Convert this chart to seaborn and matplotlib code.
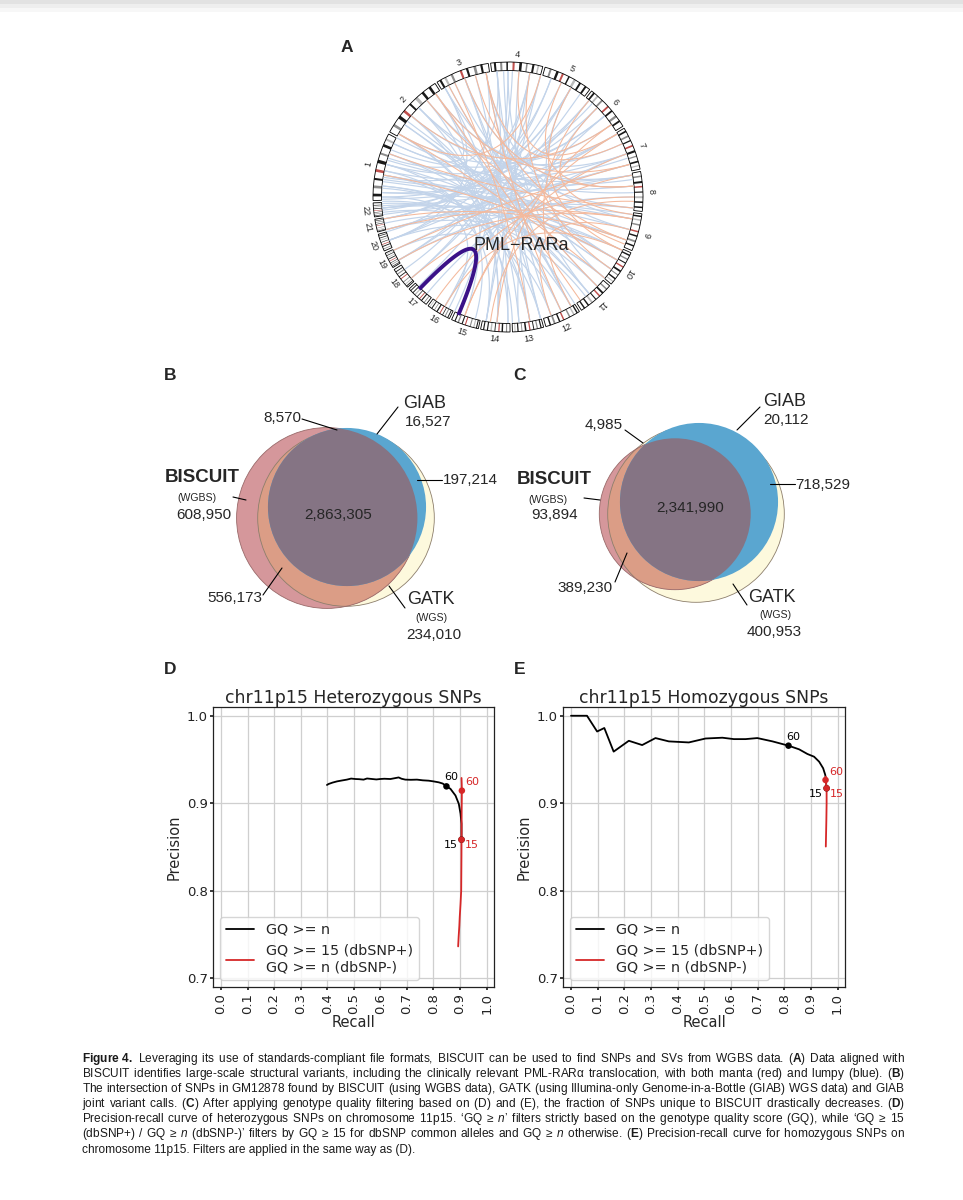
import numpy as np
import matplotlib
matplotlib.use("Agg")
import matplotlib.pyplot as plt
from matplotlib.patches import Circle, Wedge
from matplotlib import font_manager
import seaborn as sns

W, H = 963, 1200

# ---------------- panel A: circos of structural variants ----------------
chrom_names = [str(i) for i in range(1, 23)]
chrom_sizes_mb = [249, 242, 198, 190, 181, 171, 159, 145, 138, 134, 135,
                  133, 114, 107, 102, 90, 83, 80, 59, 64, 47, 51]

# link end points as angles on the circle (degrees, counter-clockwise from east)
blue_links = [
    (172, 5), (170, -10), (168, 20), (165, -30), (175, -45), (178, 30), (160, -20), (158, 40),
    (176, -60), (180, -100), (185, 10), (188, -5), (192, -25), (195, 15), (200, -40), (186, 60),
    (190, 80), (196, 100), (205, -70), (210, 50), (150, -80), (145, -50), (140, -95), (135, 10),
    (130, -110), (125, -65), (120, -85), (115, -30), (110, -75), (105, -90), (100, -60), (95, -100),
    (92, -75), (88, -120), (85, -80), (80, -95), (75, -140), (70, -150), (65, -160), (60, -170),
    (55, -135), (50, -175), (45, 180), (40, 165), (35, 150), (30, -155), (25, 140), (15, -165),
    (10, 155), (-5, 130), (-15, 120), (-25, 170), (-35, 145), (-50, 160), (-65, 175), (-75, 182),
    (-90, 150), (-105, 165), (-120, 40), (-130, 20), (-140, 60), (-150, 0), (-160, 30), (-165, -40),
    (-170, 70), (-50, 90), (-60, 110), (-70, 95), (-100, 75), (-115, 90), (-10, 100), (5, 110),
    (20, 125), (-40, 60), (-85, 45), (-30, 135), (-20, 185), (162, 95), (155, 125), (200, 120),
    (168, -88), (183, -118), (173, -15), (152, 2), (143, -35), (-145, 80), (-95, 135), (-80, 170),
    (178, -8), (181, 18), (184, -30), (163, 8), (187, -52), (171, 48), (-58, 140), (-45, 118),
]
orange_links = [
    (110, 5), (105, -20), (100, 25), (125, 15), (140, 35), (80, -35),
    (60, -25), (50, -60), (35, -95), (20, -110), (0, -140),
    (-10, -150), (-30, 170), (-40, 150), (-55, 125), (-65, 100), (-80, 115),
    (-110, 30), (-125, 10), (-155, 15), (-170, -20), (160, -5),
    (85, 30), (75, 150), (-15, -70), (195, -10), (118, -45), (65, 5),
    (45, -8), (-25, -120), (130, -22), (-2, -98),
]
# PML-RARa fusion: (chromosome, position in Mb)
pml_rara = [("15", 86), ("17", 56)]

# ---------------- panels B / C: SNP call overlaps ----------------
venn_regions = ["BISCUIT", "GIAB", "GATK", "BISCUIT+GIAB", "BISCUIT+GATK", "GIAB+GATK", "all"]
venn_b_counts = [608950, 16527, 234010, 8570, 556173, 197214, 2863305]
venn_c_counts = [93894, 20112, 400953, 4985, 389230, 718529, 2341990]

# ---------------- panels D / E: precision-recall ----------------
het_gq_recall = [0.399, 0.405, 0.42, 0.437, 0.455, 0.474, 0.49, 0.506, 0.52, 0.537, 0.55, 0.569,
                 0.585, 0.600, 0.615, 0.638, 0.652, 0.669, 0.68, 0.694, 0.715, 0.738, 0.76, 0.782,
                 0.80, 0.820, 0.835, 0.849, 0.864, 0.883, 0.8955, 0.902, 0.9055, 0.9057]
het_gq_precision = [0.9209, 0.9220, 0.9236, 0.925, 0.926, 0.927, 0.9282, 0.9277, 0.9275, 0.927, 0.9283, 0.9277,
                    0.9272, 0.9277, 0.928, 0.9277, 0.9285, 0.9295, 0.928, 0.927, 0.9268, 0.927, 0.9262, 0.9258,
                    0.925, 0.9239, 0.9225, 0.9193, 0.9165, 0.9088, 0.8993, 0.888, 0.8766, 0.8584]
het_db_recall = [0.9057, 0.9065, 0.907, 0.9068, 0.9062, 0.906, 0.9057, 0.9055, 0.905, 0.9045,
                 0.902, 0.899, 0.8975, 0.895, 0.893]
het_db_precision = [0.9289, 0.922, 0.9144, 0.905, 0.89, 0.875, 0.8584, 0.84, 0.82, 0.80,
                    0.785, 0.770, 0.760, 0.748, 0.7364]
het_marks_gq = {60: (0.849, 0.9193), 15: (0.9057, 0.8584)}
het_marks_db = {60: (0.907, 0.9144), 15: (0.9057, 0.8584)}

hom_gq_recall = [0.0, 0.06, 0.098, 0.125, 0.160, 0.217, 0.267, 0.317, 0.367, 0.442, 0.505, 0.568,
                 0.611, 0.655, 0.699, 0.756, 0.816, 0.856, 0.887, 0.912, 0.931, 0.946, 0.954,
                 0.956, 0.959]
hom_gq_precision = [1.0, 1.0, 0.982, 0.986, 0.959, 0.9714, 0.9665, 0.9745, 0.9707, 0.9695, 0.974, 0.9749,
                    0.9733, 0.9733, 0.9745, 0.9707, 0.9658, 0.9616, 0.9563, 0.9532, 0.9475, 0.940, 0.9323,
                    0.9266, 0.9171]
hom_db_recall = [0.956, 0.955, 0.959, 0.959, 0.958, 0.957, 0.956]
hom_db_precision = [0.9304, 0.9266, 0.9171, 0.90, 0.88, 0.865, 0.8505]
hom_marks_gq = {60: (0.816, 0.9658), 15: (0.959, 0.9171)}
hom_marks_db = {60: (0.955, 0.9266), 15: (0.959, 0.9171)}

x_ticks = [0.0, 0.1, 0.2, 0.3, 0.4, 0.5, 0.6, 0.7, 0.8, 0.9, 1.0]
y_ticks = [0.7, 0.8, 0.9, 1.0]

caption_lines = [
    r"$\mathbf{Figure~4.}$ Leveraging its use of standards-compliant file formats, BISCUIT can be used to find SNPs and SVs from WGBS data. ($\mathbf{A}$) Data aligned with",
    r"BISCUIT identifies large-scale structural variants, including the clinically relevant PML-RARα translocation, with both manta (red) and lumpy (blue). ($\mathbf{B}$)",
    r"The intersection of SNPs in GM12878 found by BISCUIT (using WGBS data), GATK (using Illumina-only Genome-in-a-Bottle (GIAB) WGS data) and GIAB",
    r"joint variant calls. ($\mathbf{C}$) After applying genotype quality filtering based on (D) and (E), the fraction of SNPs unique to BISCUIT drastically decreases. ($\mathbf{D}$)",
    r"Precision-recall curve of heterozygous SNPs on chromosome 11p15. ‘GQ ≥ $\mathit{n}$’ filters strictly based on the genotype quality score (GQ), while ‘GQ ≥ 15",
    r"(dbSNP+) / GQ ≥ $\mathit{n}$ (dbSNP-)’ filters by GQ ≥ 15 for dbSNP common alleles and GQ ≥ $\mathit{n}$ otherwise. ($\mathbf{E}$) Precision-recall curve for homozygous SNPs on",
    r"chromosome 11p15. Filters are applied in the same way as (D).",
]

# ---------------- style ----------------
sns.set_theme(style="ticks", rc={
    "axes.edgecolor": "#222222", "axes.linewidth": 0.9,
    "xtick.major.size": 2.2, "ytick.major.size": 2.2,
    "xtick.major.pad": 2.2, "ytick.major.pad": 1.6,
    "xtick.color": "#222222", "ytick.color": "#222222",
    "grid.color": "#cfcfcf", "grid.linewidth": 0.9,
})
plt.rcParams["font.family"] = ["DejaVu Sans"]
installed = {f.name for f in font_manager.fontManager.ttflist}
cap_font = "Liberation Sans Narrow" if "Liberation Sans Narrow" in installed else "Liberation Sans"
plt.rcParams["mathtext.fontset"] = "custom"
plt.rcParams["mathtext.rm"] = cap_font
plt.rcParams["mathtext.bf"] = cap_font + ":bold"
plt.rcParams["mathtext.it"] = cap_font + ":italic"
ARIAL = "Liberation Sans"

fig = plt.figure(figsize=(W / 100, H / 100), dpi=100)
fig.patch.set_facecolor("white")

# page overlay in pixel coordinates
ax0 = fig.add_axes([0, 0, 1, 1])
ax0.set_xlim(0, W)
ax0.set_ylim(H, 0)
ax0.axis("off")
for y0, y1, c in [(0, 4, "#e2e2e2"), (4, 8, "#eeeeee"), (8, 12, "#f7f7f7")]:
    ax0.axhspan(y0, y1, color=c, lw=0)

for letter, x, y in [("A", 347, 48), ("B", 170, 375), ("C", 520, 375), ("D", 170, 670), ("E", 520, 670)]:
    ax0.text(x, y, letter, ha="center", va="center", fontsize=12.5, fontweight="bold", family=ARIAL)

# ---------------- panel A ----------------
cx, cy, half = 508, 197, 170
axA = fig.add_axes([(cx - half) / W, 1 - (cy + half) / H, 2 * half / W, 2 * half / H])
axA.set_xlim(-half, half)
axA.set_ylim(-half, half)
axA.axis("off")

gap = 1.0
deg_per_mb = (360 - gap * len(chrom_sizes_mb)) / sum(chrom_sizes_mb)
band_patterns = [
    [(0.06, 0.10, "k"), (0.18, 0.22, "#8c8c8c"), (0.30, 0.33, "k"), (0.42, 0.46, "#c0504d"),
     (0.55, 0.60, "k"), (0.68, 0.71, "#8c8c8c"), (0.80, 0.84, "k"), (0.90, 0.93, "#bbbbbb")],
    [(0.10, 0.14, "#8c8c8c"), (0.24, 0.29, "k"), (0.36, 0.40, "#c0504d"), (0.50, 0.53, "k"),
     (0.62, 0.67, "#bbbbbb"), (0.75, 0.79, "k"), (0.88, 0.92, "k")],
    [(0.05, 0.09, "k"), (0.15, 0.19, "#bbbbbb"), (0.28, 0.32, "#8c8c8c"), (0.46, 0.50, "#c0504d"),
     (0.58, 0.62, "k"), (0.72, 0.77, "#8c8c8c"), (0.85, 0.89, "k")],
]
r_out, ring_w, r_link, r_lab = 135, 8.5, 126, 143
chrom_start = {}
pos = 182.0 - gap / 2
for i, (name, size) in enumerate(zip(chrom_names, chrom_sizes_mb)):
    a0 = pos
    a1 = pos - size * deg_per_mb
    chrom_start[name] = a0
    axA.add_patch(Wedge((0, 0), r_out, a1, a0, width=ring_w, facecolor="white", edgecolor="none"))
    for f0, f1, c in band_patterns[i % 3]:
        axA.add_patch(Wedge((0, 0), r_out, a0 - f1 * (a0 - a1), a0 - f0 * (a0 - a1),
                            width=ring_w, facecolor=c, edgecolor="none"))
    axA.add_patch(Wedge((0, 0), r_out, a1, a0, width=ring_w, facecolor="none",
                        edgecolor="black", lw=0.6))
    mid = (a0 + a1) / 2
    rot = mid - 90 if -60 < mid < 200 else mid + 90
    axA.text(r_lab * np.cos(np.radians(mid)), r_lab * np.sin(np.radians(mid)), name,
             ha="center", va="center", rotation=rot, fontsize=6.5, family=ARIAL)
    pos = a1 - gap


def link_curve(a1, a2, r=r_link):
    t = np.linspace(0, 1, 80)[:, None]
    p0 = np.array([np.cos(np.radians(a1)), np.sin(np.radians(a1))]) * r
    p2 = np.array([np.cos(np.radians(a2)), np.sin(np.radians(a2))]) * r
    pts = (1 - t) ** 2 * p0 + t ** 2 * p2  # quadratic bezier with control at centre
    return pts[:, 0], pts[:, 1]


for a1, a2 in blue_links:
    xs, ys = link_curve(a1, a2)
    axA.plot(xs, ys, color="#c3d4ea", lw=0.85, solid_capstyle="butt")
for a1, a2 in orange_links:
    xs, ys = link_curve(a1, a2)
    axA.plot(xs, ys, color="#f4b99c", lw=0.75, solid_capstyle="butt")

fus_angles = [chrom_start[c] - p * deg_per_mb for c, p in pml_rara]
xs, ys = link_curve(fus_angles[0], fus_angles[1], r=128)
axA.plot(xs, ys, color="#3a1188", lw=2.8, solid_capstyle="butt")
axA.text(473 - cx, cy - 250, "PML\u2212RARa", ha="left", va="baseline", fontsize=13, family=ARIAL)

# ---------------- panels B / C ----------------
venn_colors = {"BISCUIT": "#d5979b", "BISCUIT+GATK": "#db9d86", "GIAB": "#5aa6d0",
               "all": "#857484", "GATK": "#fdf9dd"}


def set_totals(counts):
    only_b, only_giab, only_gatk, b_giab, b_gatk, giab_gatk, all3 = counts
    return {"BISCUIT": only_b + b_giab + b_gatk + all3,
            "GIAB": only_giab + b_giab + giab_gatk + all3,
            "GATK": only_gatk + b_gatk + giab_gatk + all3}


def draw_venn(counts, centers, count_pos, name_pos, leaders):
    tot = set_totals(counts)
    rad = {k: 45 * np.sqrt(v / 1e6) for k, v in tot.items()}
    gatk = Circle(centers["GATK"], rad["GATK"], facecolor=venn_colors["GATK"], edgecolor="none")
    ax0.add_patch(gatk)
    bis = Circle(centers["BISCUIT"], rad["BISCUIT"], facecolor=venn_colors["BISCUIT"], edgecolor="none")
    ax0.add_patch(bis)
    bg = Circle(centers["BISCUIT"], rad["BISCUIT"], facecolor=venn_colors["BISCUIT+GATK"], edgecolor="none")
    ax0.add_patch(bg)
    bg.set_clip_path(Circle(centers["GATK"], rad["GATK"], transform=ax0.transData))
    ax0.add_patch(Circle(centers["GATK"], rad["GATK"], facecolor="none", edgecolor="#8d7f6c", lw=0.6))
    ax0.add_patch(Circle(centers["BISCUIT"], rad["BISCUIT"], facecolor="none", edgecolor="#9a6a6a", lw=0.6))
    ax0.add_patch(Circle(centers["GIAB"], rad["GIAB"], facecolor=venn_colors["GIAB"], edgecolor="none"))
    tri = Circle(centers["GIAB"], rad["GIAB"], facecolor=venn_colors["all"], edgecolor="none")
    ax0.add_patch(tri)
    tri.set_clip_path(Circle(centers["BISCUIT"], rad["BISCUIT"], transform=ax0.transData))

    for v, (x, y, ha) in zip(counts, count_pos):
        ax0.text(x, y, f"{v:,}", ha=ha, va="center", fontsize=11, family=ARIAL)
    for txt, (x, y, ha, size, weight) in name_pos.items():
        ax0.text(x, y, txt, ha=ha, va="center", fontsize=size, fontweight=weight, family=ARIAL)
    for x0, y0, x1, y1 in leaders:
        ax0.plot([x0, x1], [y0, y1], color="black", lw=0.8)


draw_venn(venn_b_counts,
          {"BISCUIT": (327, 518), "GATK": (346, 518), "GIAB": (347, 507)},
          [(203.5, 515, "center"), (405, 422, "left"), (434, 635, "center"), (301, 418, "right"),
           (262, 598, "right"), (443, 480, "left"), (338, 515, "center")],
          {"BISCUIT": (165, 478, "left", 13.5, "bold"), "(WGBS)": (197, 498, "center", 7.6, "normal"),
           "GIAB": (403, 403, "left", 13, "normal"), "GATK": (407, 600, "left", 13, "normal"),
           "(WGS)": (431, 618, "center", 7.6, "normal")},
          [(302, 419, 337, 430), (398, 407, 377, 434), (417, 480, 442, 480),
           (233, 497, 246, 500), (263, 595, 282, 568), (405, 608, 389, 586)])

draw_venn(venn_c_counts,
          {"BISCUIT": (675, 514), "GATK": (696, 514), "GIAB": (699, 502)},
          [(554.5, 515, "center"), (763, 420, "left"), (774.5, 632, "center"), (623, 425, "right"),
           (613, 588, "right"), (795, 485, "left"), (690, 508, "center")],
          {"BISCUIT": (517, 480, "left", 13.5, "bold"), "(WGBS)": (547.5, 500, "center", 7.6, "normal"),
           "GIAB": (763, 402, "left", 13, "normal"), "GATK": (748, 598, "left", 13, "normal"),
           "(WGS)": (775, 615, "center", 7.6, "normal")},
          [(625, 430, 643, 443), (760, 407, 737, 430), (770, 484, 795, 484),
           (584, 498, 600, 500), (615, 582, 627, 553), (747, 605, 733, 584)])

# ---------------- panels D / E ----------------
RED = "#d62728"


def pr_panel(box, title, gq_r, gq_p, db_r, db_p, marks_gq, marks_db):
    x0, y0, x1, y1 = box
    ax = fig.add_axes([x0 / W, 1 - y1 / H, (x1 - x0) / W, (y1 - y0) / H])
    ax.grid(True, color="#cfcfcf", lw=0.9)
    ax.set_axisbelow(True)
    sns.lineplot(x=gq_r, y=gq_p, ax=ax, color="black", lw=1.3, sort=False, estimator=None,
                 label="GQ >= n")
    sns.lineplot(x=db_r, y=db_p, ax=ax, color=RED, lw=1.3, sort=False, estimator=None,
                 label="GQ >= 15 (dbSNP+)\nGQ >= n (dbSNP-)")
    for marks, color, offs in [(marks_gq, "black", {60: (3.5, 6.5), 15: (-8, -4)}),
                               (marks_db, RED, {60: (7.5, 6), 15: (7.5, -4)})]:
        sns.scatterplot(x=[m[0] for m in marks.values()], y=[m[1] for m in marks.values()],
                        ax=ax, color=color, s=22, edgecolor="none", zorder=4, legend=False)
        for gq, (mx, my) in marks.items():
            ax.annotate(str(gq), (mx, my), xytext=offs[gq], textcoords="offset points",
                        ha="center", va="center", fontsize=8, color=color)
    ax.set_xlim(-0.03, 1.028)
    ax.set_ylim(0.69, 1.01)
    ax.set_xticks(x_ticks)
    ax.set_xticklabels([f"{v:.1f}" for v in x_ticks], rotation=90, fontsize=9.5)
    ax.set_yticks(y_ticks)
    ax.set_yticklabels([f"{v:.1f}" for v in y_ticks], fontsize=9.5)
    ax.set_xlabel("Recall", fontsize=10.5, labelpad=0.5)
    ax.set_ylabel("Precision", fontsize=10.5, labelpad=4)
    ax.set_title(title, fontsize=12.4, pad=1.5)
    ax.legend(loc="lower left", fontsize=10.3, framealpha=0.8, edgecolor="#cccccc",
              borderaxespad=0.5)
    for s in ax.spines.values():
        s.set_visible(True)
        s.set_color("#222222")
    return ax


pr_panel((213, 707, 494, 987), "chr11p15 Heterozygous SNPs", het_gq_recall, het_gq_precision,
         het_db_recall, het_db_precision, het_marks_gq, het_marks_db)
pr_panel((563, 707, 845, 987), "chr11p15 Homozygous SNPs", hom_gq_recall, hom_gq_precision,
         hom_db_recall, hom_db_precision, hom_marks_gq, hom_marks_db)

# ---------------- caption (justified by stretching the word gaps) ----------------
CAP_L, CAP_R = 82, 905
fig.canvas.draw()
renderer = fig.canvas.get_renderer()
probe = [ax0.text(0, 0, line, fontsize=8, family=cap_font) for line in caption_lines]
widest = max(t.get_window_extent(renderer).width for t in probe)
for t in probe:
    t.remove()
cap_size = 8 * (CAP_R - CAP_L) / widest * 0.99


def spaced(parts, s):
    return (" " + r"$\hspace{%.4f}$" % s).join(parts)


for i, line in enumerate(caption_lines):
    t = ax0.text(CAP_L, 1062 + i * 15.1, line, ha="left", va="baseline", fontsize=cap_size,
                 family=cap_font, color="#1a1a1a")
    if i == len(caption_lines) - 1:
        continue
    parts = line.split(" ")
    t.set_text(spaced(parts, 0.0))
    w0 = t.get_window_extent(renderer).width
    t.set_text(spaced(parts, 1.0))
    w1 = t.get_window_extent(renderer).width
    t.set_text(spaced(parts, max(0.0, (CAP_R - CAP_L - w0) / (w1 - w0))))

fig.savefig("out.png", dpi=100, facecolor="white")
